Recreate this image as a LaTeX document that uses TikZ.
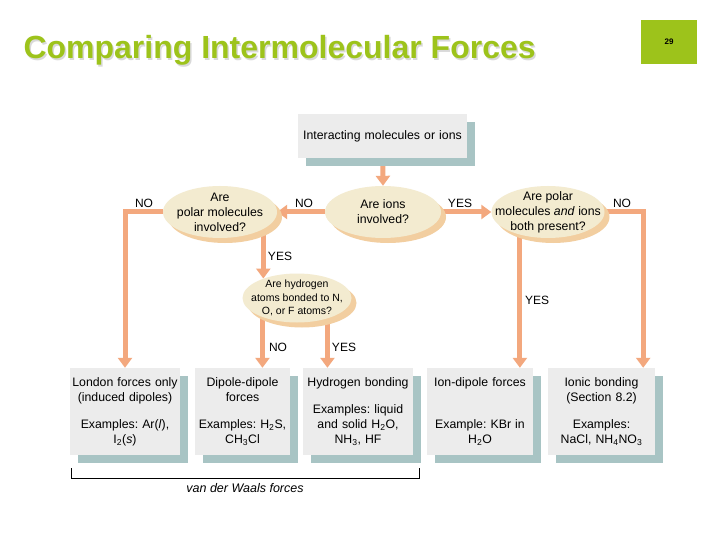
\documentclass[tikz,border=0pt]{standalone}
\usepackage{fontspec}
\setmainfont{Liberation Sans}
\frenchspacing
\usetikzlibrary{arrows.meta}
\usetikzlibrary{shapes.geometric}
\usetikzlibrary{shadows}

\definecolor{titlegreen}{RGB}{157,195,27}
\definecolor{boxfill}{RGB}{236,236,236}
\definecolor{boxshade}{RGB}{168,196,196}
\definecolor{ellfill}{RGB}{243,235,208}
\definecolor{ellshade}{RGB}{242,206,160}
\definecolor{arrowc}{RGB}{243,168,126}

\pgfdeclarelayer{bg}
\pgfsetlayers{bg,main}

\begin{document}
\begin{tikzpicture}[x=1pt, y=-1pt]
    \tikzset{
        every node/.style={font=\fontsize{12.3}{15}\selectfont},
        question/.style={ellipse, fill=ellfill, inner sep=-30pt, align=center,
            drop shadow={shadow xshift=5pt, shadow yshift=-5pt, fill=ellshade, opacity=1}},
        box/.style={rectangle, fill=boxfill, inner sep=2pt, align=center,
            drop shadow={shadow xshift=8pt, shadow yshift=-8pt, fill=boxshade, opacity=1}},
        force/.style={box, minimum height=87pt},
        flow/.style={arrowc, line width=5pt, -{Triangle[width=14pt,length=10pt]}},
        answer/.style={inner sep=0pt, font=\fontsize{12}{14}\selectfont}
    }

    \begin{pgfonlayer}{bg}
        \fill [white] (0,0) rectangle (720,540);
    \end{pgfonlayer}
    \useasboundingbox (0,0) rectangle (720,540);

    % title and slide number
    \node [anchor=base west, text=black!15, font=\fontsize{32}{36}\selectfont\bfseries] (title-shadow) at (21.5,60.5) {Comparing Intermolecular Forces};
    \node [anchor=base west, text=titlegreen, font=\fontsize{32}{36}\selectfont\bfseries] (title) at (20,59) {Comparing Intermolecular Forces};
    \node [fill=titlegreen, minimum width=56pt, minimum height=44pt, inner sep=0pt, font=\fontsize{8}{9}\selectfont\bfseries] (page) at (669,42) {29};

    \node [box, text width=165pt, minimum height=44pt] (start) at (382.5,136) {Interacting molecules or ions};

    \node [question, minimum width=116pt, minimum height=52pt] (ions) at (383,212) {Are ions\\involved?};
    \node [question, minimum width=114pt, minimum height=52pt] (polar) at (220,212) {Are\\polar molecules\\involved?};
    \node [question, minimum width=113pt, minimum height=52pt] (both) at (548,212) {Are polar\\molecules \textit{and} ions\\both present?};
    \node [question, minimum width=109pt, minimum height=49pt, font=\fontsize{10.5}{13.3}\selectfont] (hydro) at (297,298) {Are hydrogen\\atoms bonded to N,\\O, or F atoms?};

    \node [force, text width=106pt] (london) at (125,411.5) {London forces only\\(induced dipoles)\\[12pt]Examples: Ar(\textit{l}),\\I\textsubscript{2}(\textit{s})};
    \node [force, text width=91pt] (dipole) at (242.5,411.5) {Dipole-dipole\\forces\\[12pt]Examples: H\textsubscript{2}S,\\CH\textsubscript{3}Cl};
    \node [force, text width=106pt] (hbond) at (358,411.5) {Hydrogen bonding\\[12pt]Examples: liquid\\and solid H\textsubscript{2}O,\\NH\textsubscript{3}, HF};
    \node [force, text width=102pt] (iondip) at (480,411.5) {Ion-dipole forces\\[27pt]Example: KBr in\\H\textsubscript{2}O};
    \node [force, text width=103pt] (ionic) at (601.5,411.5) {Ionic bonding\\(Section 8.2)\\[12pt]Examples:\\NaCl, NH\textsubscript{4}NO\textsubscript{3}};

    \coordinate (ionicin) at ([xshift=-12pt]ionic.north east);

    \begin{pgfonlayer}{bg}
        \draw [flow] (start) -- (ions.north);
        \draw [flow] (ions) -- (polar.east);
        \draw [flow] (ions) -- (both.west);
        \draw [flow] (polar) -| (london.north);
        \draw [flow] (both) -| (ionicin);
        \draw [flow] (hydro.150 |- polar) -- (hydro.150);
        \draw [flow] (both.219) -- (both.219 |- iondip.north);
        \draw [flow] (hydro.209) -- (hydro.209 |- dipole.north);
        \draw [flow] (hydro.-34) -- (hydro.-34 |- hbond.north);
    \end{pgfonlayer}

    \foreach \name/\x/\y/\txt in {noleft/144/203/NO, nomid/304/203/NO, yesmid/460/203/YES, noright/622/203/NO,
        yespolar/280/256/YES, yesboth/537/300/YES, nohydro/278/347/NO, yeshydro/344/347/YES} {
        \node [answer] (\name) at (\x,\y) {\txt};
    }

    % bracket under the first three boxes
    \draw [line width=0.8pt] (71,468) -- (71,478) -- (419,478) -- (419,468);
    \node [font=\fontsize{12.5}{15}\selectfont\itshape] (vdw) at (245,488) {van der Waals forces};

\end{tikzpicture}
\end{document}
